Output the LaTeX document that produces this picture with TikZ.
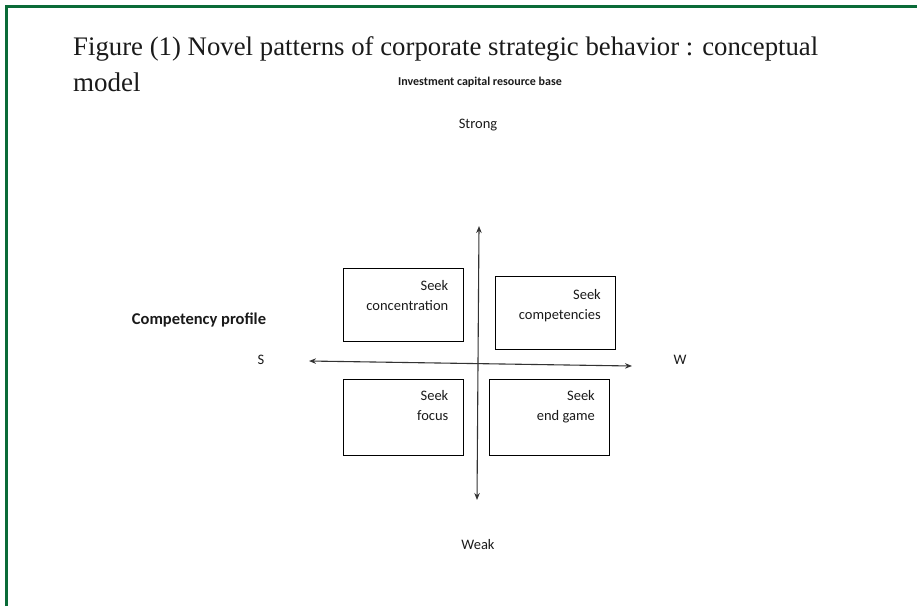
\documentclass[tikz,border=0pt]{standalone}
\usepackage{fontspec}
\setmainfont{Liberation Serif}
\newfontfamily\calib{Carlito}
\usetikzlibrary{arrows.meta}
\definecolor{frame}{HTML}{0A6B38}
\definecolor{ink}{HTML}{1A1A1A}
\definecolor{axisink}{HTML}{333333}
\begin{document}
\begin{tikzpicture}[x=1pt,y=-1pt,
  quad/.style={draw=black,line width=1pt,inner sep=0pt,minimum width=120pt,minimum height=73pt},
  qtext/.style={font=\calib\fontsize{14.5}{20}\selectfont,align=right,inner sep=0pt,anchor=north east,text=ink},
  small/.style={font=\calib\fontsize{14.5}{18}\selectfont,inner sep=0pt,text=ink},
  titletext/.style={anchor=base west,inner sep=0pt,font=\fontsize{27}{36}\selectfont,text=ink},
  axis/.style={draw=axisink,line width=1.1pt,{Stealth[length=7pt,width=5.5pt]}-{Stealth[length=7pt,width=5.5pt]}}]
\useasboundingbox (0,0) rectangle (917,606);
% frame
\draw[frame,line width=3pt] (6.5,606) -- (6.5,6.5) -- (917,6.5);
% title
\node[titletext] (t1) at (73,55) {\resizebox{745pt}{!}{Figure (1) Novel patterns of corporate strategic behavior : conceptual}};
\node[titletext] (t2) at (73,91) {model};
% axis labels
\node[small,font=\calib\bfseries\fontsize{12}{14}\selectfont] (inv) at (480,82) {Investment capital resource base};
\node[small] (strong) at (478,125) {Strong};
\node[small] (weak) at (478,545) {Weak};
\node[small,font=\calib\bfseries\fontsize{16.5}{18}\selectfont] (comp) at (199,320) {Competency profile};
\node[small] (s) at (261,360) {S};
\node[small] (w) at (680,360) {W};
% axes
\coordinate (vt) at (479,226);
\coordinate (vb) at (477,500);
\coordinate (hl) at (309,361);
\coordinate (hr) at (632,366);
\draw[axis] (vt) -- (vb);
\draw[axis] (hl) -- (hr);
% boxes
\node[quad] (b1) at (403,304.5) {};
\node[quad] (b2) at (555.5,313) {};
\node[quad,minimum height=76pt] (b3) at (403,417) {};
\node[quad,minimum height=76pt] (b4) at (549.5,417) {};
\node[qtext] (l1) at ([xshift=-15pt,yshift=-13pt]b1.north east) {Seek\\concentration};
\node[qtext] (l2) at ([xshift=-15pt,yshift=-13pt]b2.north east) {Seek\\competencies};
\node[qtext] (l3) at ([xshift=-15pt,yshift=-12pt]b3.north east) {Seek\\focus};
\node[qtext] (l4) at ([xshift=-15pt,yshift=-12pt]b4.north east) {Seek\\end game};
\end{tikzpicture}
\end{document}
